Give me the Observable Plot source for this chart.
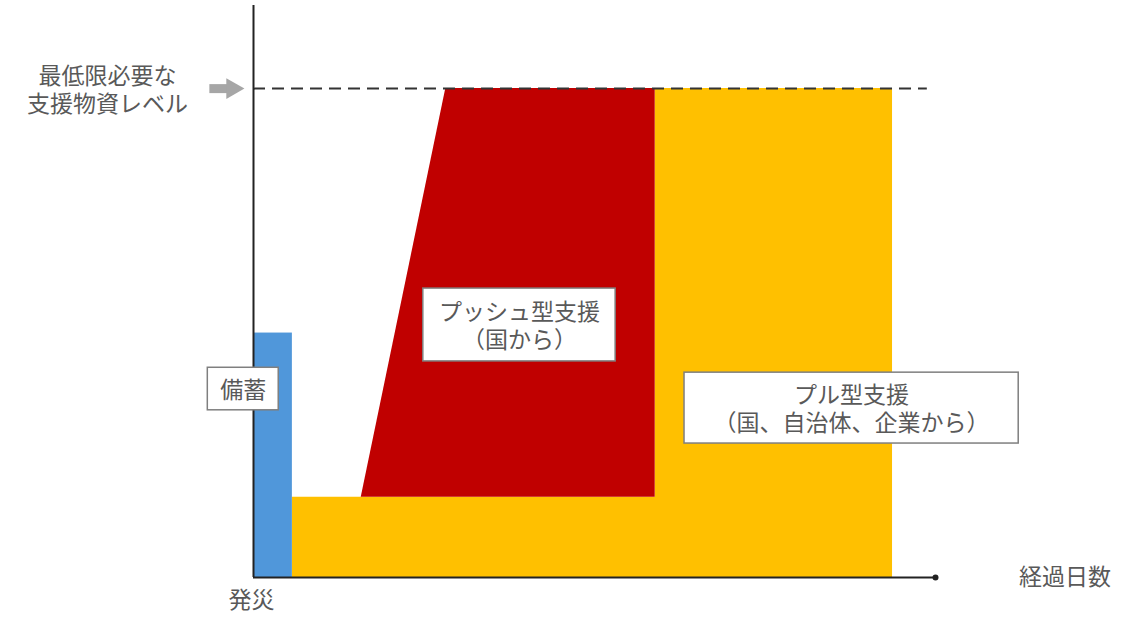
<!DOCTYPE html>
<html><head><meta charset="utf-8">
<script src="https://cdn.jsdelivr.net/npm/d3@7"></script>
<script src="https://cdn.jsdelivr.net/npm/@observablehq/plot@0.6"></script>
<style>body{margin:0;background:#fff;} svg{display:block;}</style>
</head><body><div id="chart"></div>
<script>
// conceptual units: x = elapsed days (0..100), y = supply level (required = 100)
const requiredLevel = 100;
const stockpile = [{x1: 0, x2: 5.7, y1: 0, y2: 50}];
const pullX = [5.7, 58.9, 58.9, 93.7];
const pullTop = [16.4, 16.4, 100, 100];
const pullArea = pullX.map((x, i) => ({x, y1: 0, y2: pullTop[i]}));
const pushX = [15.8, 28.2, 58.9];
const pushTop = [16.4, 100, 100];
const pushBase = 16.4;
const pushArea = pushX.map((x, i) => ({x, y1: pushBase, y2: pushTop[i]}));

const boxLabels = ["備蓄", "プッシュ型支援\n（国から）", "プル型支援\n（国、自治体、企業から）"];
const boxX1 = [-6.7, 24.9, 63.2];
const boxX2 = [3.7, 53.1, 112.2];
const boxY1 = [34.2, 44.2, 27.4];
const boxY2 = [42.9, 59.1, 41.9];
const boxes = boxLabels.map((t, i) => ({t, x1: boxX1[i], x2: boxX2[i], y1: boxY1[i], y2: boxY2[i], cx: (boxX1[i] + boxX2[i]) / 2, cy: (boxY1[i] + boxY2[i]) / 2}));

const levelLabel = "最低限必要な\n支援物資レベル";
const xAxisLabel = "経過日数";
const originLabel = "発災";

const font = "'Noto Sans CJK JP', 'Noto Sans', sans-serif";
const textColor = "#595959";

const chart = Plot.plot({
  width: 1128, height: 619,
  marginLeft: 253, marginRight: 193, marginTop: 5, marginBottom: 42,
  x: {domain: [0, 100], axis: null},
  y: {domain: [0, 117], axis: null},
  style: {fontFamily: font, background: "#fff"},
  marks: [
    Plot.areaY(pullArea, {x: "x", y1: "y1", y2: "y2", fill: "#FFC000"}),
    Plot.areaY(pushArea, {x: "x", y1: "y1", y2: "y2", fill: "#C00000"}),
    Plot.rect(stockpile, {x1: "x1", x2: "x2", y1: "y1", y2: "y2", fill: "#5097DA"}),
    Plot.ruleY([requiredLevel], {x1: 0, x2: 98.8, stroke: "#333", strokeWidth: 2, strokeDasharray: "12,7"}),
    Plot.ruleX([0], {y1: 0, y2: 117, stroke: "#222", strokeWidth: 2}),
    Plot.ruleY([0], {x1: 0, x2: 100, stroke: "#222", strokeWidth: 2}),
    Plot.dot([0], {x: () => 100, y: () => 0, r: 3, fill: "#222"}),
    // gray block arrow pointing at required level
    Plot.ruleY([requiredLevel], {x1: -6.4, x2: -3.6, stroke: "#A6A6A6", strokeWidth: 9}),
    Plot.dot([requiredLevel], {x: () => -3.1, y: d => d, symbol: "triangle2", rotate: 90, r: 10, fill: "#A6A6A6"}),
    Plot.rect(boxes, {x1: "x1", x2: "x2", y1: "y1", y2: "y2", fill: "#fff", stroke: "#7F7F7F", strokeWidth: 1.5}),
    Plot.text(boxes, {x: "cx", y: "cy", text: "t", fontSize: 23, fill: textColor, lineHeight: 1.22}),
    Plot.text([levelLabel], {x: () => -21.4, y: () => requiredLevel, text: d => d, fontSize: 23, fill: textColor, lineHeight: 1.22}),
    Plot.text([xAxisLabel], {x: () => 119, y: () => 0, text: d => d, fontSize: 23, fill: textColor}),
    Plot.text([originLabel], {x: () => -0.3, y: () => -4.7, text: d => d, fontSize: 23, fill: textColor})
  ]
});
document.getElementById("chart").appendChild(chart);
</script></body></html>
